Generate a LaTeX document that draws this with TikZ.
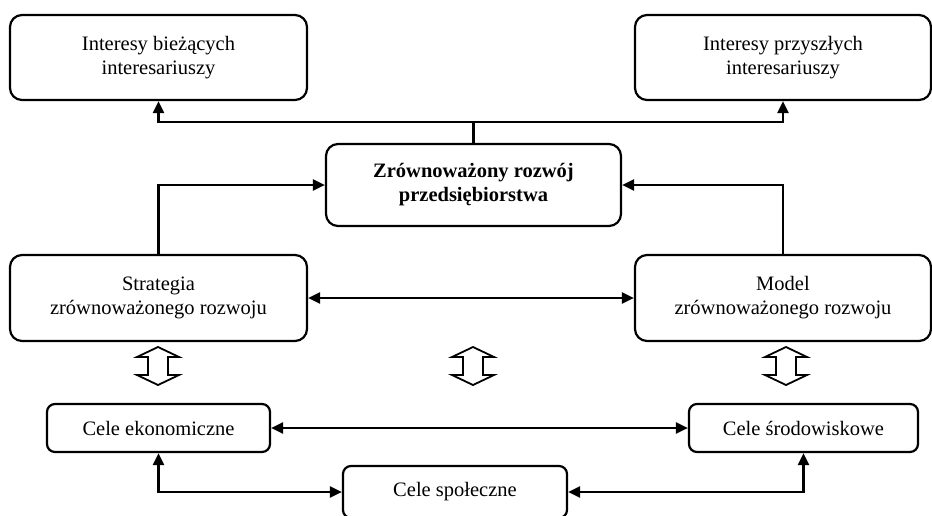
\documentclass[tikz,border=0pt]{standalone}
\usepackage{fontspec}
\setmainfont{Liberation Serif}
\usetikzlibrary{arrows.meta}
\begin{document}
\begin{tikzpicture}[x=1pt,y=-1pt,
  every node/.style={font=\fontsize{20.5}{24}\selectfont, align=center, inner sep=0pt},
  bigbox/.style={draw, line width=2.2pt, rounded corners=12pt, minimum width=297pt},
  smallbox/.style={draw, line width=2.2pt, rounded corners=8pt, minimum height=48pt},
  arr/.style={line width=2.2pt, -{Triangle[length=12pt,width=11pt]}},
  arrboth/.style={line width=2.2pt, {Triangle[length=12pt,width=11pt]}-{Triangle[length=12pt,width=11pt]}},
  pics/updown/.style={code={
    \draw[line width=1.8pt, line join=miter]
      (0,-19) -- (21,-9) -- (10,-9) -- (10,9) -- (21,9) -- (0,19)
      -- (-21,9) -- (-10,9) -- (-10,-9) -- (-21,-9) -- cycle;
  }}]
\useasboundingbox (0,0) rectangle (932,515);

% top row: stakeholder interests
\node[bigbox, minimum height=85pt] (bie) at (158.5,57.5) {Interesy bieżących\\interesariuszy};
\node[bigbox, minimum height=85pt, minimum width=296pt] (prz) at (783,57.5) {Interesy przyszłych\\interesariuszy};

% central goal
\node[bigbox, minimum height=82pt, minimum width=295pt] (zr) at (473.5,185) {\bfseries Zrównoważony rozwój\\\bfseries przedsiębiorstwa};

% strategy and model
\node[bigbox, minimum height=86pt] (str) at (158.5,298) {Strategia\\zrównoważonego rozwoju};
\node[bigbox, minimum height=86pt, minimum width=296pt] (mod) at (783,298) {Model\\zrównoważonego rozwoju};

% objectives
\node[smallbox, minimum width=223pt] (eko) at (158.5,428) {Cele ekonomiczne};
\node[smallbox, minimum width=229pt] (sro) at (803.5,428) {Cele środowiskowe};
\node[smallbox, minimum width=224pt, minimum height=52pt] (spo) at (455,492) {Cele społeczne};

% connectors
\coordinate (hub) at (473,122);
\draw[arr] (zr.north) -- (zr.north |- hub) -| (bie.south);
\draw[arr] (zr.north |- hub) -| (prz.south);
\draw[arr] (str.north) |- (zr.west);
\draw[arr] (mod.north) |- (zr.east);
\draw[arrboth] (str.east) -- (mod.west);
\draw[arrboth] (eko.east) -- (sro.west);
\draw[arrboth] (eko.south) |- (spo.west);
\draw[arrboth] (sro.south) |- (spo.east);

% hollow two-way arrows between levels
\pic at (158,366) {updown};
\pic at (473,366) {updown};
\pic at (786,366) {updown};
\end{tikzpicture}
\end{document}
